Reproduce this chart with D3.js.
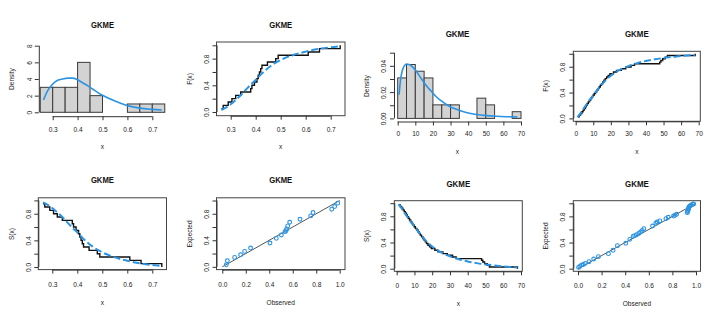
<!DOCTYPE html>
<html>
<head>
<meta charset="utf-8">
<script src="https://cdnjs.cloudflare.com/ajax/libs/d3/7.8.5/d3.min.js"></script>
<style>
  html, body { margin: 0; padding: 0; background: #fff; }
  svg { display: block; font-family: "Liberation Sans", Arial, sans-serif; }
</style>
</head>
<body>
<svg id="chart" width="716" height="316"></svg>
<script>
// ---------- left data set (n = 20) ----------
const obsA = [0.263, 0.27, 0.29, 0.305, 0.32, 0.34, 0.38, 0.385, 0.395, 0.405,
              0.41, 0.415, 0.42, 0.425, 0.447, 0.48, 0.49, 0.61, 0.655, 0.738];
const breaksA = [0.25, 0.30, 0.35, 0.40, 0.45, 0.50, 0.55, 0.60, 0.65, 0.70, 0.75];
const densA = [3, 3, 3, 6, 2, 0, 0, 1, 1, 1];
const gridA = [0.263, 0.28, 0.30, 0.32, 0.34, 0.36, 0.38, 0.40, 0.42, 0.44,
               0.46, 0.48, 0.50, 0.55, 0.60, 0.65, 0.70, 0.738];
const pdfA = [1.5, 2.6, 3.4, 3.85, 4.0, 4.1, 4.1, 3.9, 3.55, 3.2,
              2.8, 2.4, 2.05, 1.35, 0.8, 0.5, 0.35, 0.27];
const cdfA = [0.03, 0.065, 0.115, 0.18, 0.25, 0.33, 0.41, 0.48, 0.56, 0.63,
              0.69, 0.74, 0.78, 0.855, 0.905, 0.945, 0.97, 0.985];
const survA = [0.97, 0.935, 0.885, 0.82, 0.75, 0.67, 0.59, 0.52, 0.44, 0.37,
               0.31, 0.26, 0.22, 0.145, 0.095, 0.055, 0.03, 0.015];
const ppObsA = [0.034, 0.043, 0.105, 0.156, 0.19, 0.241, 0.406, 0.46, 0.503, 0.534,
                0.543, 0.548, 0.557, 0.574, 0.662, 0.753, 0.773, 0.932, 0.957, 0.983];
const ppExpA = [0.03, 0.091, 0.141, 0.182, 0.232, 0.283, 0.359, 0.429, 0.48, 0.53,
                0.545, 0.571, 0.616, 0.672, 0.717, 0.768, 0.818, 0.869, 0.909, 0.96];

// ---------- right data set (n = 39) ----------
const obsB = [1.3, 2.0, 2.8, 3.5, 4.2, 4.9, 5.5, 6.0, 6.6, 7.2, 7.9, 8.5, 9.1, 9.8,
              10.5, 11.3, 12.0, 12.6, 13.3, 14.0, 14.7, 15.4, 16.1, 16.8, 17.6, 18.5, 19.5,
              21.5, 23.2, 26.0, 28.5, 31.5, 33.5, 47.8, 48.5, 49.5, 51.0, 52.2, 68.0];
const breaksB = [0, 5, 10, 15, 20, 25, 30, 35, 40, 45, 50, 55, 60, 65, 70];
const densB = [0.0308, 0.041, 0.0359, 0.0308, 0.0103, 0.0103, 0.0103,
               0, 0, 0.0154, 0.0103, 0, 0, 0.0051];
const pdfGridB = [0.8, 1.5, 2.5, 3.6, 4.9, 6.8, 8.7, 10.6, 13.4, 16.3, 19.1,
                  21.9, 25.7, 29.5, 33.3, 38.9, 44.6, 50.3, 56, 61.6, 68];
const pdfB = [0.018, 0.0282, 0.0358, 0.0396, 0.0414, 0.0409, 0.0388, 0.0358, 0.0302, 0.0249, 0.0206,
              0.0165, 0.0124, 0.0091, 0.0069, 0.0045, 0.003, 0.0021, 0.0016, 0.0013, 0.0011];
const cdfGridB = [1.0, 2.5, 5, 7.5, 10, 12.5, 15, 17.5, 20, 25, 30, 35, 40, 45, 50, 55, 60, 68];
const cdfB = [0.015, 0.07, 0.17, 0.27, 0.36, 0.45, 0.53, 0.6, 0.66, 0.75,
              0.81, 0.855, 0.89, 0.915, 0.935, 0.95, 0.965, 0.98];
const survB = [0.985, 0.93, 0.83, 0.73, 0.64, 0.55, 0.47, 0.4, 0.34, 0.25,
               0.19, 0.145, 0.11, 0.085, 0.065, 0.05, 0.035, 0.02];
const ppObsB = [0.005, 0.015, 0.03, 0.045, 0.062, 0.093, 0.133, 0.173, 0.258, 0.297,
                0.334, 0.405, 0.439, 0.467, 0.48, 0.496, 0.515, 0.53, 0.545, 0.558,
                0.632, 0.66, 0.671, 0.694, 0.745, 0.765, 0.81, 0.822, 0.836, 0.926,
                0.928, 0.932, 0.935, 0.938, 0.94, 0.949, 0.958, 0.972, 0.98];
const ppExpB = [0.02, 0.035, 0.055, 0.065, 0.082, 0.107, 0.148, 0.184, 0.23, 0.281,
                0.352, 0.388, 0.449, 0.495, 0.505, 0.52, 0.54, 0.561, 0.585, 0.612,
                0.653, 0.695, 0.714, 0.73, 0.765, 0.786, 0.805, 0.816, 0.832, 0.857,
                0.875, 0.89, 0.908, 0.925, 0.944, 0.959, 0.97, 0.985, 0.99];

// ---------- ticks and labels ----------
const xTicksA = [0.3, 0.4, 0.5, 0.6, 0.7];
const densTicksA = [0, 2, 4, 6, 8];
const xTicksB = [0, 10, 20, 30, 40, 50, 60, 70];
const densTicksB = [0, 0.01, 0.02, 0.03, 0.04, 0.05];
const densLabelsB = [0, 0.02, 0.04];
const probTicks = [0, 0.2, 0.4, 0.6, 0.8, 1];
const probLabels = [0, 0.4, 0.8];
const unitLabels = [0, 0.2, 0.4, 0.6, 0.8, 1];
const TITLE = 'GKME';

const BLUE = '#2a94e4';
const SX = 0.85;      // narrow glyphs of the original device
const FS = 7.7;

const svg = d3.select('#chart');

const cal = (v0, p0, v1, p1) => d3.scaleLinear().domain([v0, v1]).range([p0, p1]);

const text = (g, x, y, s, o = {}) => {
  const rot = o.rotate ? ' rotate(-90)' : '';
  return g.append('text')
    .attr('transform', `translate(${x},${y})${rot} scale(${o.sx || SX},1)`)
    .attr('text-anchor', 'middle')
    .attr('font-size', o.size || FS)
    .attr('font-weight', o.bold ? 'bold' : 'normal')
    .attr('fill', o.fill || '#1a1a1a')
    .text(s);
};

// R style axis: line from first to last tick, labels only where R kept them
const bottomAxis = (x, yPos, ticks, labels, fmt, labBase) => {
  const a = svg.append('g')
    .attr('transform', `translate(0,${yPos})`)
    .call(d3.axisBottom(x).tickValues(ticks).tickSize(4).tickSizeOuter(0)
      .tickFormat(d => labels.includes(d) ? fmt(d) : ''));
  a.attr('font-family', null).attr('font-size', null).attr('color', '#333');
  a.select('.domain').attr('d', `M${x(ticks[0])},0.5H${x(ticks[ticks.length - 1])}`);
  a.selectAll('text')
    .attr('y', null).attr('dy', null)
    .attr('transform', `translate(0,${labBase - yPos}) scale(${SX},1)`)
    .attr('font-size', FS).attr('fill', '#1a1a1a');
};

const leftAxis = (y, xPos, ticks, labels, fmt, off) => {
  const a = svg.append('g')
    .attr('transform', `translate(${xPos},0)`)
    .call(d3.axisLeft(y).tickValues(ticks).tickSize(4).tickSizeOuter(0)
      .tickFormat(d => labels.includes(d) ? fmt(d) : ''));
  a.attr('font-family', null).attr('font-size', null).attr('color', '#333');
  a.select('.domain').attr('d', `M0.5,${y(ticks[0])}V${y(ticks[ticks.length - 1])}`);
  a.selectAll('text')
    .attr('x', null).attr('dy', '0.36em')
    .attr('text-anchor', 'middle')
    .attr('transform', `translate(${-off},0) rotate(-90) scale(${SX},1)`)
    .attr('font-size', FS).attr('fill', '#1a1a1a');
};

const box = (b) => svg.append('rect')
  .attr('x', b.l).attr('y', b.t).attr('width', b.r - b.l).attr('height', b.b - b.t)
  .attr('fill', 'none').attr('stroke', '#444').attr('stroke-width', 1);

const pts = (xs, ys) => xs.map((v, i) => [v, ys[i]]);

// ---------- panels ----------
const histPanel = (c) => {
  const { x, y } = c;
  svg.append('g').selectAll('rect')
    .data(c.dens)
    .join('rect')
    .attr('x', (d, i) => x(c.breaks[i]))
    .attr('width', (d, i) => x(c.breaks[i + 1]) - x(c.breaks[i]))
    .attr('y', d => y(d))
    .attr('height', d => y(0) - y(d))
    .attr('fill', '#d3d3d3')
    .attr('stroke', '#3a3a3a')
    .attr('stroke-width', 1);
  svg.append('path')
    .datum(pts(c.grid, c.pdf))
    .attr('d', d3.line().x(d => x(d[0])).y(d => y(d[1])).curve(d3.curveMonotoneX))
    .attr('fill', 'none').attr('stroke', BLUE).attr('stroke-width', 1.6);
  bottomAxis(x, c.xAxisAt, c.xTicks, c.xTicks, c.xFmt, c.xLabBase);
  leftAxis(y, c.yAxisAt, c.yTicks, c.yLabels, c.yFmt, c.yOff);
};

const stepPanel = (c) => {
  const { x, y } = c;
  const n = c.obs.length;
  const emp = c.obs.map((v, i) => [v, c.surv ? 1 - (i + 1) / n : (i + 1) / n]);
  svg.append('path')
    .datum(emp)
    .attr('d', d3.line().x(d => x(d[0])).y(d => y(d[1])).curve(d3.curveStepAfter))
    .attr('fill', 'none').attr('stroke', '#111').attr('stroke-width', 1.4);
  svg.append('path')
    .datum(pts(c.grid, c.fit))
    .attr('d', d3.line().x(d => x(d[0])).y(d => y(d[1])).curve(d3.curveMonotoneX))
    .attr('fill', 'none').attr('stroke', BLUE).attr('stroke-width', 2)
    .attr('stroke-dasharray', '7,3');
  box(c.box);
  bottomAxis(x, c.box.b, c.xTicks, c.xTicks, c.xFmt, c.xLabBase);
  leftAxis(y, c.box.l, probTicks, probLabels, d3.format('.1f'), c.yOff);
};

const ppPanel = (c) => {
  const { x, y } = c;
  svg.append('path')
    .datum([[0, 0], [1, 1]])
    .attr('d', d3.line().x(d => x(d[0])).y(d => y(d[1])))
    .attr('stroke', '#555').attr('stroke-width', 1);
  svg.append('g').selectAll('circle')
    .data(pts(c.ppx, c.ppy))
    .join('circle')
    .attr('cx', d => x(d[0])).attr('cy', d => y(d[1])).attr('r', 1.9)
    .attr('fill', 'none').attr('stroke', BLUE).attr('stroke-width', 1.1);
  box(c.box);
  bottomAxis(x, c.box.b, probTicks, unitLabels, d3.format('.1f'), c.xLabBase);
  leftAxis(y, c.box.l, probTicks, probLabels, d3.format('.1f'), c.yOff);
};

const titles = (cx, ty, xl, xlBase, yl, ylx, yly, size, tsx) => {
  const g = svg.append('g');
  text(g, cx, ty, TITLE, { bold: true, size: size, fill: '#111', sx: tsx });
  text(g, cx, xlBase, xl);
  text(g, ylx, yly, yl, { rotate: true });
};

// top-left: histogram
histPanel({
  x: cal(0.3, 52.7, 0.7, 152.3), y: cal(0, 112.3, 8, 45.7),
  breaks: breaksA, dens: densA, grid: gridA, pdf: pdfA,
  xTicks: xTicksA, xFmt: d3.format('.1f'), xAxisAt: 116.2, xLabBase: 132,
  yTicks: densTicksA, yLabels: densTicksA, yFmt: d3.format('d'), yAxisAt: 38.8, yOff: 10
});
titles(102.5, 27.5, 'x', 149, 'Density', 13.5, 79, 9.6, 0.8);

// top: empirical vs fitted cdf (left set)
stepPanel({
  x: cal(0.3, 230.7, 0.7, 330.7), y: cal(0, 112, 1, 45.3),
  box: { l: 216.5, r: 345, t: 42, b: 115.7 },
  obs: obsA, grid: gridA, fit: cdfA,
  xTicks: xTicksA, xFmt: d3.format('.1f'), xLabBase: 132, yOff: 10.5
});
titles(280.7, 27.5, 'x', 149, 'F(x)', 191.8, 79, 9.6, 0.8);

// top: histogram (right set)
histPanel({
  x: cal(0, 397.7, 70, 521), y: cal(0, 118.4, 0.05, 52.7),
  breaks: breaksB, dens: densB, grid: pdfGridB, pdf: pdfB,
  xTicks: xTicksB, xFmt: d3.format('d'), xAxisAt: 121.5, xLabBase: 136,
  yTicks: densTicksB, yLabels: densLabelsB, yFmt: d3.format('.2f'), yAxisAt: 394, yOff: 10.8
});
titles(457.5, 36.7, 'x', 154.3, 'Density', 368.5, 86, 9, 0.88);

// top-right: cdf (right set)
stepPanel({
  x: cal(0, 575.7, 70, 698.7), y: cal(0, 118.4, 1, 53.8),
  box: { l: 573.3, r: 700.3, t: 51.3, b: 121.3 },
  obs: obsB, grid: cdfGridB, fit: cdfB,
  xTicks: xTicksB, xFmt: d3.format('d'), xLabBase: 136, yOff: 11
});
titles(636.8, 36.7, 'x', 154.3, 'F(x)', 547.5, 86, 9, 0.88);

// bottom-left: survival (left set)
stepPanel({
  x: cal(0.3, 52.3, 0.7, 152.3), y: cal(0, 267, 1, 200.4),
  box: { l: 38.3, r: 166.5, t: 197.8, b: 269.6 },
  obs: obsA, grid: gridA, fit: survA, surv: true,
  xTicks: xTicksA, xFmt: d3.format('.1f'), xLabBase: 287.4, yOff: 10.5
});
titles(102.4, 183, 'x', 304.6, 'S(x)', 14, 234, 9.6, 0.8);

// bottom: pp plot (left set)
ppPanel({
  x: cal(0, 222.3, 1, 339.7), y: cal(0, 266.8, 1, 200.5),
  box: { l: 216.5, r: 345, t: 197.8, b: 269.6 },
  ppx: ppObsA, ppy: ppExpA, xLabBase: 287.4, yOff: 10.5
});
titles(280.7, 183, 'Observed', 304.6, 'Expected', 191.8, 234, 9.6, 0.8);

// bottom: survival (right set)
stepPanel({
  x: cal(0, 396.7, 70, 521), y: cal(0, 268.7, 1, 203.2),
  box: { l: 394.3, r: 522.3, t: 200.7, b: 271.3 },
  obs: obsB, grid: cdfGridB, fit: survB, surv: true,
  xTicks: xTicksB, xFmt: d3.format('d'), xLabBase: 288, yOff: 11
});
titles(458.3, 187.4, 'x', 305.5, 'S(x)', 368.5, 236, 9, 0.88);

// bottom-right: pp plot (right set)
ppPanel({
  x: cal(0, 578, 1, 696), y: cal(0, 268.7, 1, 203.3),
  box: { l: 573.3, r: 700.5, t: 200.7, b: 271.3 },
  ppx: ppObsB, ppy: ppExpB, xLabBase: 288, yOff: 11
});
titles(636.9, 187.4, 'Observed', 305.5, 'Expected', 547.5, 236, 9, 0.88);
</script>
</body>
</html>
